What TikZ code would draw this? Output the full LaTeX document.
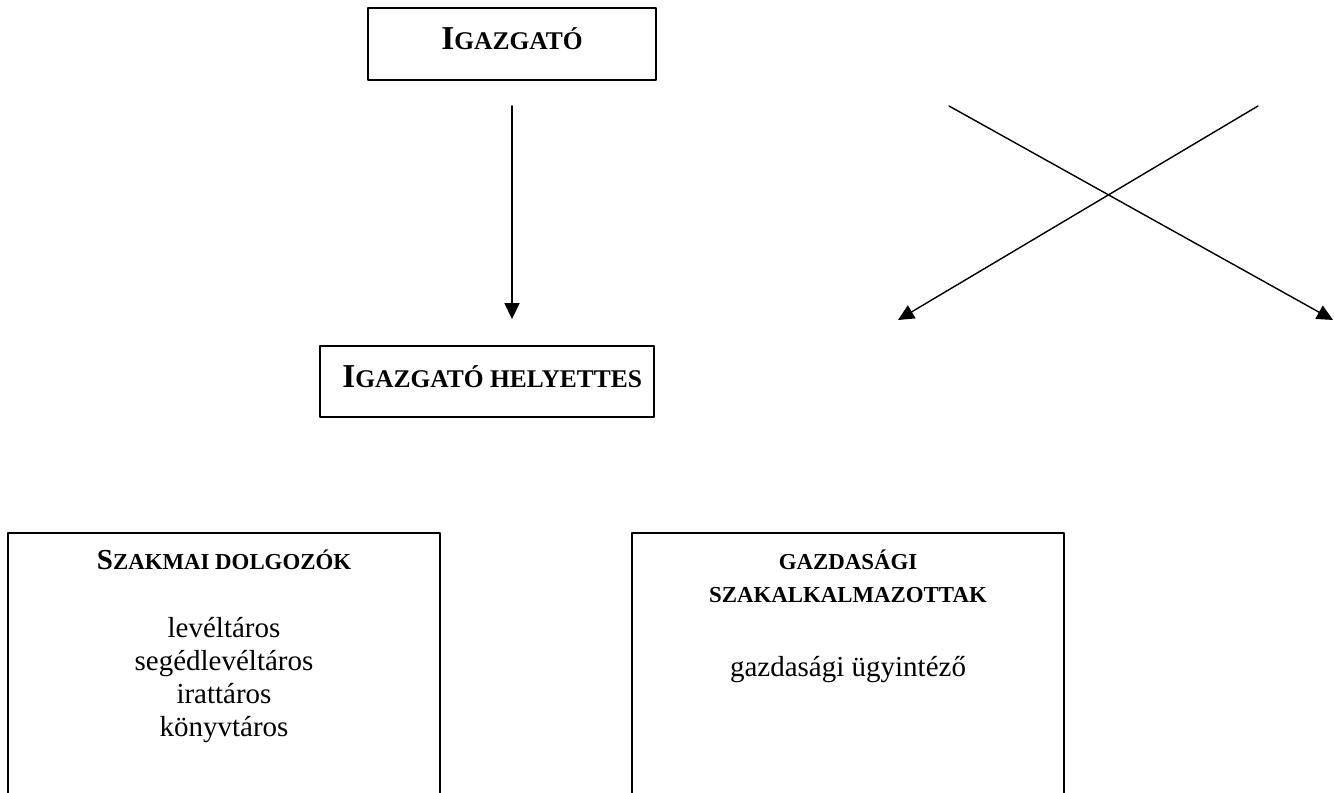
\documentclass[tikz,border=0pt]{standalone}
\usepackage{fontspec}
\setmainfont{Liberation Serif}
\usetikzlibrary{arrows.meta,positioning}

\newcommand{\fejnagy}[2]{\textbf{{\fontsize{19pt}{22pt}\selectfont #1}{\fontsize{14.5pt}{17pt}\selectfont #2}}}
\newcommand{\fejkis}[2]{\textbf{{\fontsize{16.5pt}{19pt}\selectfont #1}{\fontsize{13pt}{18.8pt}\selectfont #2}}}

\tikzset{
  doboz/.style={draw,line width=1pt,inner sep=0pt},
  nyil/.style={line width=0.8pt,-{Triangle[length=0.32cm,width=0.3cm]}},
  felirat/.style={inner sep=0pt,anchor=base,font=\fontsize{16.5pt}{18.8pt}\selectfont}
}

\begin{document}
\begin{tikzpicture}[line cap=round,line join=round]
  \useasboundingbox (0,0) rectangle (26.68,15.86);
  \clip (0,0) rectangle (26.68,15.86);
  % vezetes
  \node[doboz,minimum width=5.76cm,minimum height=1.44cm] (igazgato) at (10.24,14.98) {};
  \node[felirat] (igazgatoszoveg) at (10.24,14.86) {\fejnagy{I}{GAZGATÓ}};
  \node[doboz,minimum width=6.68cm,minimum height=1.42cm] (helyettes) at (9.74,8.23) {};
  \node[felirat,anchor=base west] (helyettesszoveg) at (6.84,8.10) {\fejnagy{I}{GAZGATÓ HELYETTES}};
  \draw[nyil] ([yshift=-0.50cm]igazgato.south) -- ([yshift=0.52cm]igazgato.south |- helyettes.north);
  % kereszt nyilak
  \coordinate (xbalfent) at (18.98,13.74);
  \coordinate (xjobblent) at (26.66,9.46);
  \coordinate (xjobbfent) at (25.16,13.74);
  \coordinate (xballent) at (17.96,9.46);
  \draw[nyil] (xbalfent) -- (xjobblent);
  \draw[nyil] (xjobbfent) -- (xballent);
  % also dobozok, alul levagva
  \node[doboz,anchor=north,minimum width=8.64cm,minimum height=7cm] (szakmai) at (4.48,5.22) {};
  \node[doboz,anchor=north,minimum width=8.64cm,minimum height=7cm] (gazdasagi) at (16.96,5.22) {};
  \node[felirat] (szakmaifej) at (4.48,4.46) {\fejkis{S}{ZAKMAI DOLGOZÓK}};
  \node[felirat,align=center] (szakmailista) at (4.48,1.12)
    {levéltáros\\segédlevéltáros\\irattáros\\könyvtáros};
  \node[felirat,align=center,font=\bfseries\fontsize{13pt}{18.8pt}\selectfont] (gazdasagifej) at (16.96,3.80)
    {GAZDASÁGI\\SZAKALKALMAZOTTAK};
  \node[felirat] (gazdasagilista) at (16.96,2.32) {gazdasági ügyintéző};
\end{tikzpicture}
\end{document}
